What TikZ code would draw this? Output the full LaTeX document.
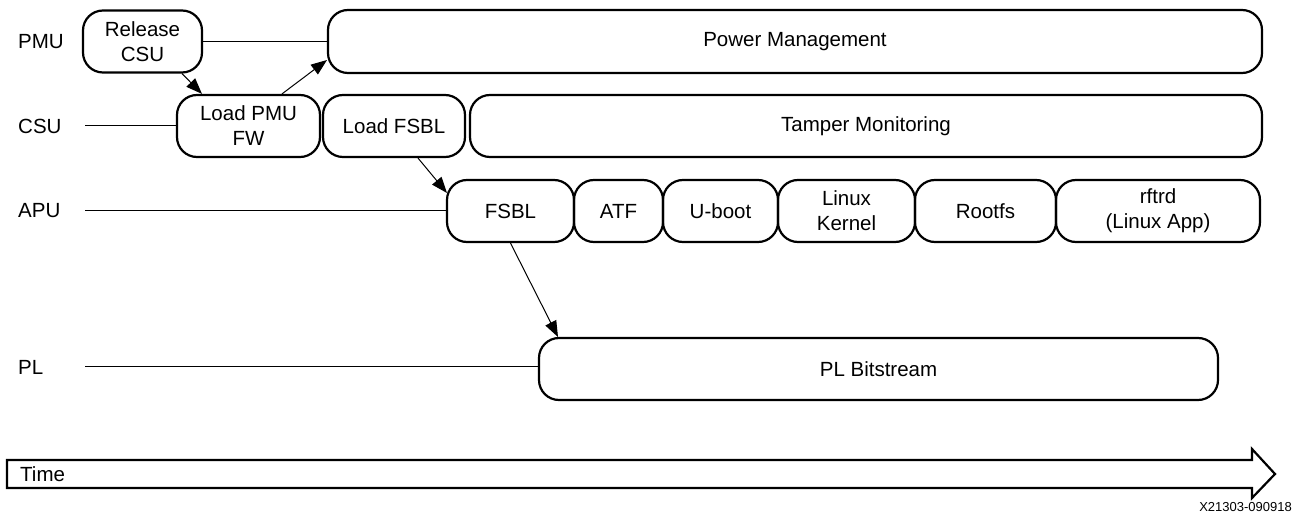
\documentclass[tikz,border=0pt]{standalone}
\usepackage{fontspec}
\setmainfont{Liberation Sans}
\usetikzlibrary{arrows.meta,calc}
\begin{document}
\begin{tikzpicture}[x=1pt,y=-1pt,
  every node/.style={font=\fontsize{20.5}{25}\selectfont},
  box/.style={draw, line width=2.2pt, rounded corners=20pt, inner sep=0pt, align=center, minimum height=62pt},
  lane/.style={anchor=west, inner sep=0pt},
  link/.style={line width=1pt},
  arr/.style={line width=1pt, -{Triangle[length=16pt,width=12pt]}},
  timebox/.style={line width=2.2pt, line join=miter}
]
\useasboundingbox (0,0) rectangle (1294,521);

% lane labels
\node[lane] (lpmu_l) at (18,42) {PMU};
\node[lane] (lcsu_l) at (18,126) {CSU};
\node[lane] (lapu_l) at (18,211) {APU};
\node[lane] (lpl_l) at (18,367) {PL};

% PMU row
\node[box, minimum width=119pt] (rel) at (142.5,41.5) {Release\\CSU};
\node[box, minimum width=934pt, minimum height=63pt] (pm) at (795,41.5) {Power Management};

% CSU row
\node[box, minimum width=143pt] (lpmu) at (248.5,126) {Load PMU\\FW};
\node[box, minimum width=142pt] (lfsbl) at (394,126) {Load FSBL};
\node[box, minimum width=792pt] (tm) at (866,126) {Tamper Monitoring};

% APU row
\node[box, minimum width=127pt] (fsbl) at (510.5,211) {FSBL};
\node[box, minimum width=89pt] (atf) at (618.5,211) {ATF};
\node[box, minimum width=115pt] (uboot) at (720.5,211) {U-boot};
\node[box, minimum width=137pt] (lk) at (846.5,211) {Linux\\Kernel};
\node[box, minimum width=141pt] (rootfs) at (985.5,211) {Rootfs};
\node[box, minimum width=204pt] (rftrd) at (1158,211) {rftrd\\(Linux App)};

% PL row
\node[box, minimum width=679pt] (plb) at (878.5,369) {PL Bitstream};

% lane lines
\coordinate (csuS) at (85,126);
\coordinate (apuS) at (85,211);
\coordinate (plS) at (85,367);
\draw[link] (csuS) -- (csuS -| lpmu.west);
\draw[link] (apuS) -- (apuS -| fsbl.west);
\draw[link] (plS) -- (plS -| plb.west);
\draw[link] (rel.east) -- (pm.west);

% arrows
\coordinate (pmIn) at (327,60);
\coordinate (fsblIn) at (447,193);
\coordinate (plbIn) at (558,337);
\draw[arr] ([xshift=39.5pt]rel.south) -- ([xshift=-46.5pt]lpmu.north);
\draw[arr] ([xshift=33.5pt]lpmu.north) -- (pmIn);
\draw[arr] ([xshift=24pt]lfsbl.south) -- (fsblIn);
\draw[arr] (fsbl.south) -- (plbIn);

% time arrow
\draw[timebox] (7,460) -- (1252,460) -- (1252,449) -- (1275,474) -- (1252,498) -- (1252,488) -- (7,488) -- cycle;
\node[anchor=west, inner sep=0pt] (time) at (20,474) {Time};
\node[anchor=east, inner sep=0pt, font=\fontsize{13}{15}\selectfont] (fig) at (1292,507.5) {X21303-090918};
\end{tikzpicture}
\end{document}
